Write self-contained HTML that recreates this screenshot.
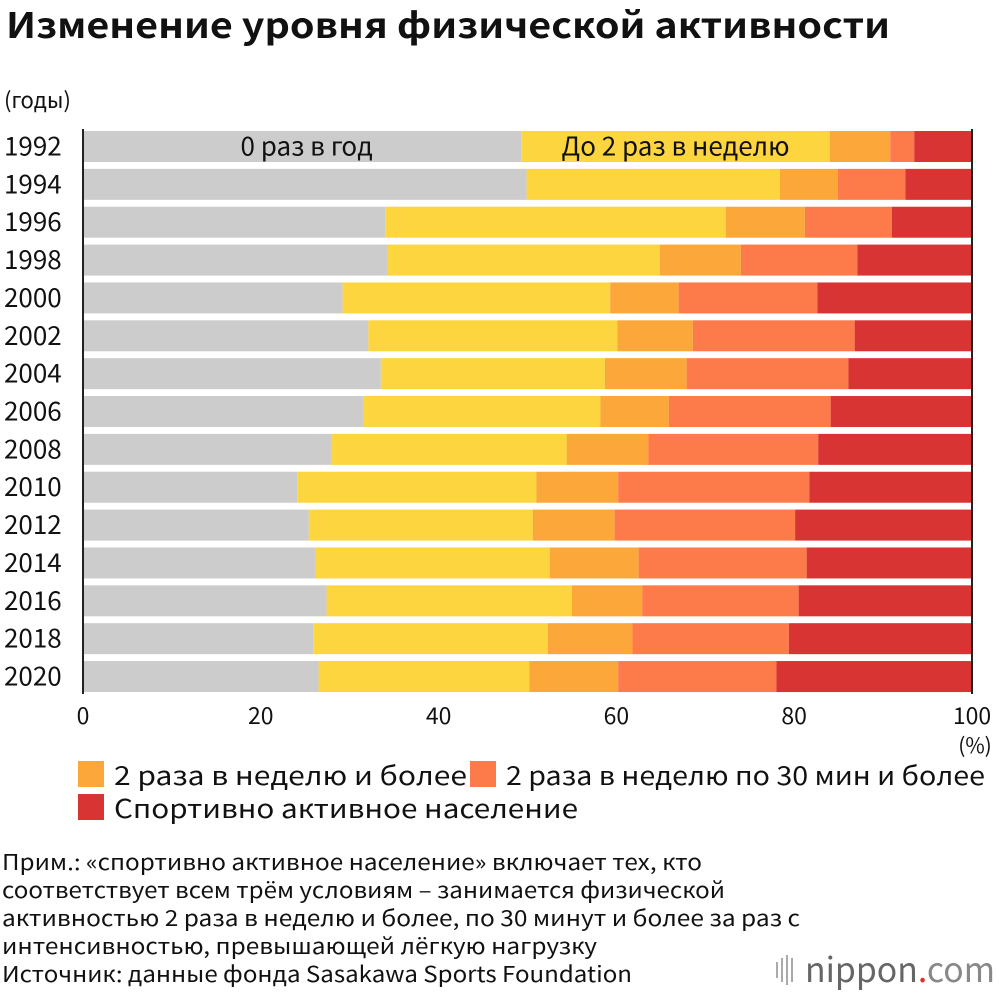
<!DOCTYPE html>
<html><head><meta charset="utf-8"><style>
body{margin:0;background:#fff;}
svg text{font-family:"Noto Sans CJK JP","Liberation Sans",sans-serif;fill:#111;}
</style></head><body>
<svg width="1000" height="994" viewBox="0 0 1000 994" id="chart">
<text x="6" y="38" font-size="35" font-weight="bold" textLength="884" lengthAdjust="spacingAndGlyphs">Изменение уровня физической активности</text>
<text x="4" y="108" font-size="22">(годы)</text>
<g id="bars"></g>
<g id="axis"></g>
<text x="975" y="753" font-size="21" text-anchor="middle">(%)</text>
<g>
<rect x="78" y="761" width="26" height="26" fill="#fba73a"/>
<text x="114" y="785" font-size="26" textLength="353" lengthAdjust="spacingAndGlyphs">2 раза в неделю и более</text>
<rect x="470" y="761" width="26" height="26" fill="#fd7b4b"/>
<text x="506" y="785" font-size="26" textLength="479" lengthAdjust="spacingAndGlyphs">2 раза в неделю по 30 мин и более</text>
<rect x="78" y="794" width="26" height="26" fill="#d83434"/>
<text x="114" y="818" font-size="26" textLength="464" lengthAdjust="spacingAndGlyphs">Спортивно активное население</text>
</g>
<g font-size="22">
<text x="2" y="870" textLength="700" lengthAdjust="spacingAndGlyphs">Прим.: «спортивно активное население» включает тех, кто</text>
<text x="2" y="898" textLength="723" lengthAdjust="spacingAndGlyphs">соответствует всем трём условиям – занимается физической</text>
<text x="2" y="926" textLength="798" lengthAdjust="spacingAndGlyphs">активностью 2 раза в неделю и более, по 30 минут и более за раз с</text>
<text x="2" y="954" textLength="595" lengthAdjust="spacingAndGlyphs">интенсивностью, превышающей лёгкую нагрузку</text>
<text x="2" y="982" textLength="630" lengthAdjust="spacingAndGlyphs">Источник: данные фонда Sasakawa Sports Foundation</text>
</g>
<g>
<rect x="776" y="962" width="2" height="16" fill="#aaa"/><rect x="781" y="958" width="2" height="24" fill="#aaa"/><rect x="786" y="955" width="2" height="30" fill="#aaa"/><rect x="791" y="958" width="2" height="24" fill="#aaa"/>
<text x="805" y="982" font-size="34" style="fill:#666" textLength="190" lengthAdjust="spacingAndGlyphs">nippon<tspan style="fill:#e03030">.</tspan><tspan style="fill:#888">com</tspan></text>
</g>
</svg>
<script>
const years=["1992","1994","1996","1998","2000","2002","2004","2006","2008","2010","2012","2014","2016","2018","2020"];
const zero=[49.3,49.9,34.0,34.3,29.2,32.1,33.5,31.5,27.9,24.1,25.4,26.2,27.4,25.9,26.5];
const upTo2=[34.7,28.5,38.3,30.6,30.1,28.0,25.2,26.7,26.5,26.9,25.2,26.3,27.6,26.4,23.7];
const twoPlus=[6.8,6.5,8.9,9.1,7.7,8.5,9.2,7.7,9.2,9.2,9.2,10.0,7.9,9.5,10.0];
const twoPlus30=[2.7,7.6,9.8,13.1,15.6,18.2,18.2,18.2,19.1,21.5,20.3,18.9,17.6,17.6,17.8];
const active=[6.5,7.5,9.0,12.9,17.4,13.2,13.9,15.9,17.3,18.3,19.9,18.6,19.5,20.6,22.0];
const ticks=[0,20,40,60,80,100];
const series=[zero,upTo2,twoPlus,twoPlus30,active];
const names=["zero","up-to-2","two-plus","two-plus-30","active"];
const colors=["#cccccc","#fdd53e","#fba73a","#fd7b4b","#d83434"];
const NS="http://www.w3.org/2000/svg";
const x0=83,x1=972,top0=131,step=37.86,bh=31;
const xs=v=>x0+(x1-x0)*v/100;
const ys=i=>top0+i*step;
const bars=document.getElementById('bars');
years.forEach((y,i)=>{
  let acc=0;
  series.forEach((s,k)=>{
    const r=document.createElementNS(NS,'rect');
    const a=xs(acc),b=xs(Math.min(100,acc+s[i]));
    r.setAttribute('x',a);r.setAttribute('y',ys(i));
    r.setAttribute('width',(k==series.length-1?x1:b)-a);r.setAttribute('height',bh);
    r.setAttribute('fill',colors[k]);
    
    
    bars.appendChild(r);
    acc+=s[i];
  });
  const t=document.createElementNS(NS,'text');
  t.setAttribute('x',4);t.setAttribute('y',ys(i)+bh/2+9);t.setAttribute('font-size','26');
  t.textContent=y;
  
  
  bars.appendChild(t);
});
function lbl(txt,x,y,name){const t=document.createElementNS(NS,'text');t.setAttribute('x',x);t.setAttribute('y',y);t.setAttribute('font-size','26');t.setAttribute('text-anchor','middle');t.textContent=txt;


bars.appendChild(t);}
lbl('0 раз в год',xs(zero[0]/2+0.5),ys(0)+bh/2+9,'label-zero');
lbl('До 2 раз в неделю',xs(zero[0]+upTo2[0]/2),ys(0)+bh/2+9,'label-up-to-2');
const ax=document.getElementById('axis');
const bottom=ys(years.length-1)+bh+2;
[x0,x1].forEach((x,j)=>{const l=document.createElementNS(NS,'line');l.setAttribute('x1',x);l.setAttribute('x2',x);l.setAttribute('y1',top0-2);l.setAttribute('y2',bottom);l.setAttribute('stroke','#222');l.setAttribute('stroke-width','2');


ax.appendChild(l);});
ticks.forEach(v=>{const t=document.createElementNS(NS,'text');t.setAttribute('x',xs(v));t.setAttribute('y',724);t.setAttribute('font-size','23');t.setAttribute('text-anchor','middle');t.textContent=v;


ax.appendChild(t);});
</script>
</body></html>
